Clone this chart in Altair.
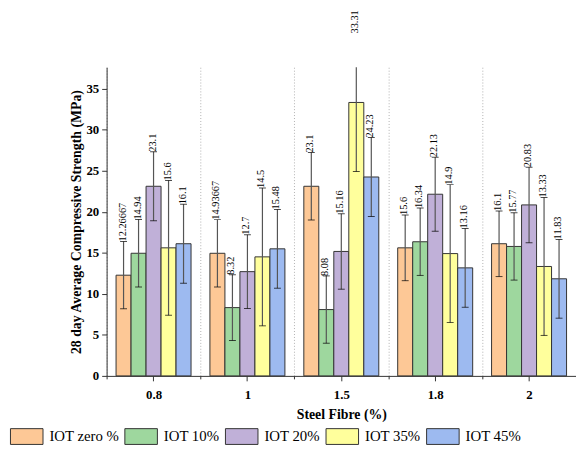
import altair as alt
import pandas as pd

groups = ["0.8", "1", "1.5", "1.8", "2"]
series = ["IOT zero %", "IOT 10%", "IOT 20%", "IOT 35%", "IOT 45%"]
colors = ["#FDC896", "#9ED79E", "#C0B0D8", "#FFFF9C", "#9DBAF0"]

vals_zero = [12.26667, 14.93667, 23.1, 15.6, 16.1]
vals_10 = [14.94, 8.32, 8.08, 16.34, 15.77]
vals_20 = [23.1, 12.7, 15.16, 22.13, 20.83]
vals_35 = [15.6, 14.5, 33.31, 14.9, 13.33]
vals_45 = [16.1, 15.48, 24.23, 13.16, 11.83]

labels_zero = ["12.26667", "14.93667", "23.1", "15.6", "16.1"]
labels_10 = ["14.94", "8.32", "8.08", "16.34", "15.77"]
labels_20 = ["23.1", "12.7", "15.16", "22.13", "20.83"]
labels_35 = ["15.6", "14.5", "33.31", "14.9", "13.33"]
labels_45 = ["16.1", "15.48", "24.23", "13.16", "11.83"]

err_zero = [4.1, 4.1, 4.1, 4.0, 4.0]
err_10 = [4.1, 4.0, 4.1, 4.1, 4.1]
err_20 = [4.2, 4.5, 4.6, 4.5, 4.6]
err_35 = [8.2, 8.4, 8.4, 8.4, 8.4]
err_45 = [4.8, 4.8, 4.8, 4.8, 4.8]

all_vals = [vals_zero, vals_10, vals_20, vals_35, vals_45]
all_labels = [labels_zero, labels_10, labels_20, labels_35, labels_45]
all_errs = [err_zero, err_10, err_20, err_35, err_45]

rows = []
for s, vals, labs, errs in zip(series, all_vals, all_labels, all_errs):
    for g, v, l, e in zip(groups, vals, labs, errs):
        rows.append({"group": g, "series": s, "value": v, "label": l,
                     "lo": v - e, "hi": v + e})
df = pd.DataFrame(rows)

serif = "Liberation Serif"

x_scale = alt.Scale(paddingInner=0, paddingOuter=0)
x_enc = alt.X("group:N", sort=groups, scale=x_scale,
              axis=alt.Axis(tickBand="extent", grid=True, gridDash=[1, 2],
                            gridColor="#b0b0b0", labelAngle=0, tickSize=3,
                            tickColor="#333", domainColor="#333",
                            labelFont=serif, labelFontWeight="bold",
                            labelFontSize=13, labelColor="black", labelPadding=10,
                            title="Steel Fibre (%)", titleFont=serif,
                            titleFontSize=14, titleFontWeight="bold",
                            titleColor="black", titlePadding=6))
x_plain = alt.X("group:N", sort=groups, scale=x_scale, axis=None)
xo_enc = alt.XOffset("series:N", sort=series,
                     scale=alt.Scale(paddingOuter=0.63, paddingInner=0))

y_ticks = [i * 2.5 for i in range(15)]
y_scale = alt.Scale(domain=[0, 37.6], nice=False, zero=True)
y_axis = alt.Axis(values=y_ticks,
                  labelExpr="datum.value % 5 === 0 ? datum.label : ''",
                  tickSize={"condition": {"test": "datum.value % 5 === 0", "value": 5}, "value": 3},
                  grid=True, gridDash=[1, 2], gridColor="#b0b0b0",
                  gridOpacity={"condition": {"test": "datum.value % 5 === 0", "value": 0}, "value": 1},
                  domainColor="#333", tickColor="#333",
                  labelFont=serif, labelFontWeight="bold", labelFontSize=13,
                  labelColor="black", labelPadding=3,
                  title="28 day Average Compressive Strength (MPa)",
                  titleFont=serif, titleFontSize=14, titleFontWeight="bold",
                  titleColor="black", titlePadding=2)

base = alt.Chart(df)

bars = base.mark_bar(stroke="#333", strokeWidth=1).encode(
    x=x_enc, xOffset=xo_enc,
    y=alt.Y("value:Q", scale=y_scale, axis=y_axis),
    color=alt.Color("series:N", sort=series,
                    scale=alt.Scale(domain=series, range=colors),
                    legend=alt.Legend(orient="none", legendX=-98, legendY=357,
                                      direction="horizontal", title=None,
                                      symbolType="M-1,-0.485L1,-0.485L1,0.485L-1,0.485Z",
                                      symbolSize=1089, symbolStrokeColor="#333",
                                      symbolStrokeWidth=1, symbolOpacity=1,
                                      labelFont=serif, labelFontSize=15,
                                      labelColor="black", labelOffset=6,
                                      columnPadding=3)),
)

center_ticks = base.mark_point(opacity=0).encode(
    x=alt.X("group:N", sort=groups, scale=x_scale,
            axis=alt.Axis(orient="bottom", labels=False, grid=False, domain=False,
                          tickSize=5, tickColor="#333", title=None)),
    y=alt.Y("value:Q", scale=y_scale),
)

rules = base.mark_rule(color="#555", strokeWidth=1.2, clip=True).encode(
    x=x_plain, xOffset=xo_enc,
    y=alt.Y("lo:Q", scale=y_scale), y2="hi:Q",
)
cap_lo = base.mark_tick(color="black", thickness=1, size=7, clip=True).encode(
    x=x_plain, xOffset=xo_enc,
    y=alt.Y("lo:Q", scale=y_scale),
)
cap_hi = base.mark_tick(color="black", thickness=1, size=7, clip=True).encode(
    x=x_plain, xOffset=xo_enc,
    y=alt.Y("hi:Q", scale=y_scale),
)
texts = base.mark_text(angle=270, align="left", baseline="middle", dy=-1,
                       font=serif, fontSize=10.5, color="black").encode(
    x=x_plain, xOffset=xo_enc,
    y=alt.Y("hi:Q", scale=y_scale),
    text="label:N",
)

chart = alt.layer(bars, rules, cap_lo, cap_hi, texts, center_ticks).resolve_axis(
    x="independent"
).properties(
    width=476, height=313,
    autosize=alt.AutoSizeParams(type="none"),
    padding={"left": 100, "top": 57, "right": 0, "bottom": 67},
    background="white",
).configure_view(stroke=None)

chart.save("out.html", embed_options={"renderer": "svg", "actions": False})
